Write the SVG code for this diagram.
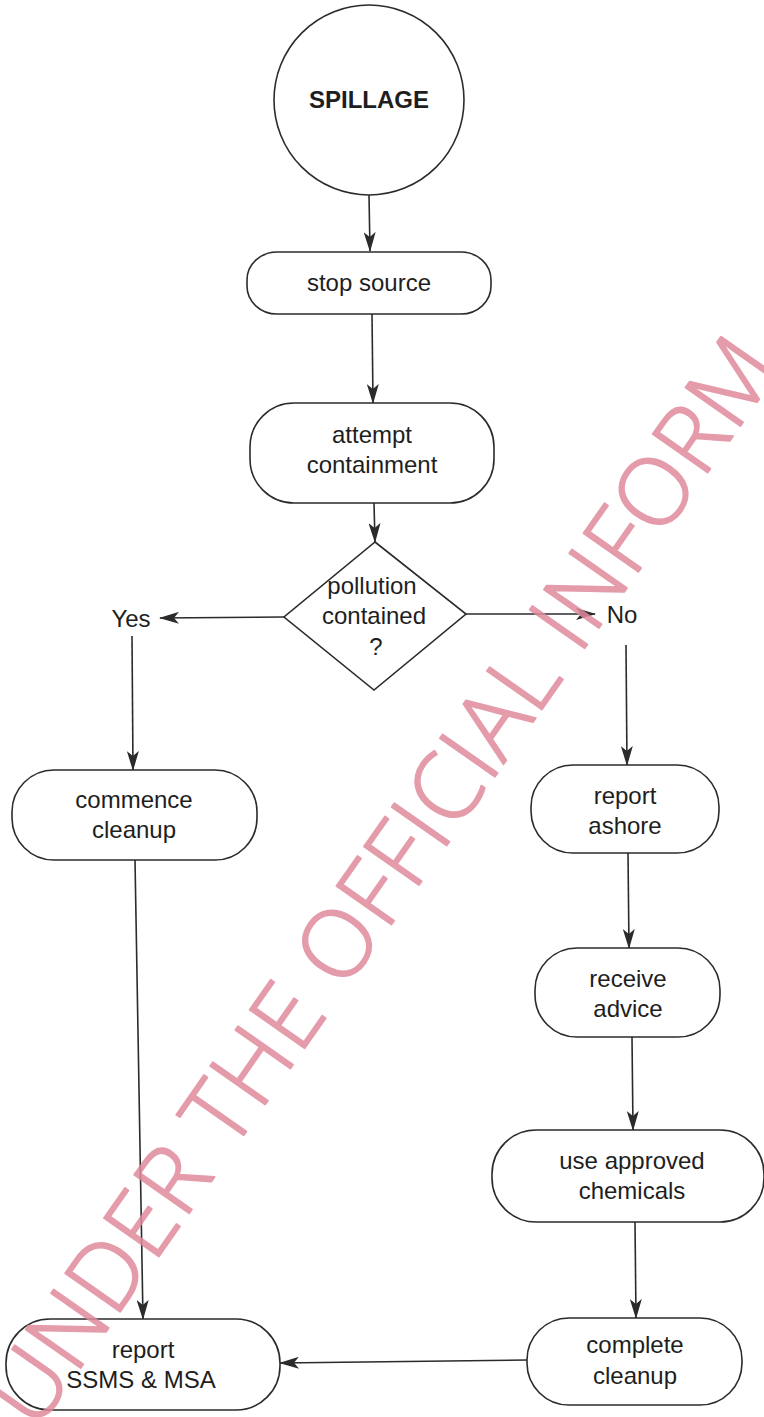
<svg xmlns="http://www.w3.org/2000/svg" width="764" height="1417" viewBox="0 0 764 1417">
  <defs>
    <marker id="arrow" viewBox="0 0 20 12" markerWidth="20" markerHeight="12" refX="19" refY="6" orient="auto" markerUnits="userSpaceOnUse">
      <path d="M0,0 L20,6 L0,12 L5,6 z" fill="#2b2b2b"/>
    </marker>
  </defs>
  <style>
    .shape { fill: #ffffff; stroke: #2b2b2b; stroke-width: 1.6; }
    .edge { fill: none; stroke: #2b2b2b; stroke-width: 1.6; marker-end: url(#arrow); }
    .label { font-family: "Liberation Sans", Arial, sans-serif; font-size: 24px; fill: #1e1e1e; text-anchor: middle; }
    .title { font-weight: bold; }
    .stamp { font-family: "Open Sans", "Liberation Sans", sans-serif; font-weight: 300; font-size: 94px; fill: #e08a9c; stroke: #e08a9c; stroke-width: 1.8; stroke-linejoin: round; opacity: 0.85; letter-spacing: 1px; }
  </style>

  <rect width="764" height="1417" fill="#ffffff"/>

  <!-- connectors -->
  <g id="connectors">
    <line class="edge" x1="369" y1="195" x2="370" y2="251"/>
    <line class="edge" x1="372" y1="314" x2="373" y2="403"/>
    <line class="edge" x1="374" y1="503" x2="375" y2="542"/>
    <line class="edge" x1="284" y1="617" x2="160" y2="618"/>
    <line class="edge" x1="466" y1="614" x2="595" y2="614"/>
    <line class="edge" x1="132" y1="636" x2="133" y2="770"/>
    <line class="edge" x1="626" y1="645" x2="627" y2="765"/>
    <line class="edge" x1="135" y1="860" x2="143" y2="1319"/>
    <line class="edge" x1="628" y1="853" x2="629" y2="948"/>
    <line class="edge" x1="632" y1="1037" x2="633" y2="1130"/>
    <line class="edge" x1="635" y1="1222" x2="636" y2="1318"/>
    <line class="edge" x1="527" y1="1360" x2="280" y2="1363"/>
    <text class="label" x="131" y="627">Yes</text>
    <text class="label" x="622" y="623">No</text>
  </g>

  <g id="spillage">
    <circle class="shape" cx="369" cy="100" r="95"/>
    <text class="label title" x="369" y="108" font-size="23">SPILLAGE</text>
  </g>

  <g id="stop-source">
    <rect class="shape" x="247" y="252" width="244" height="62" rx="30" ry="28"/>
    <text class="label" x="369" y="291">stop source</text>
  </g>

  <g id="attempt-containment">
    <rect class="shape" x="250" y="403" width="244" height="100" rx="44" ry="44"/>
    <text class="label" x="372" y="443">attempt</text>
    <text class="label" x="372" y="473">containment</text>
  </g>

  <g id="pollution-contained">
    <polygon class="shape" points="375,542 466,614 374,690 284,617"/>
    <text class="label" x="372" y="594">pollution</text>
    <text class="label" x="374" y="624">contained</text>
    <text class="label" x="376" y="655">?</text>
  </g>

  <g id="commence-cleanup">
    <rect class="shape" x="12" y="770" width="245" height="90" rx="42" ry="42"/>
    <text class="label" x="134" y="808">commence</text>
    <text class="label" x="134" y="838">cleanup</text>
  </g>

  <g id="report-ashore">
    <rect class="shape" x="531" y="765" width="188" height="88" rx="42" ry="42"/>
    <text class="label" x="625" y="804">report</text>
    <text class="label" x="625" y="834">ashore</text>
  </g>

  <g id="receive-advice">
    <rect class="shape" x="535" y="948" width="185" height="89" rx="42" ry="42"/>
    <text class="label" x="628" y="987">receive</text>
    <text class="label" x="628" y="1017">advice</text>
  </g>

  <g id="use-approved-chemicals">
    <rect class="shape" x="492" y="1130" width="272" height="92" rx="44" ry="44"/>
    <text class="label" x="632" y="1169">use approved</text>
    <text class="label" x="632" y="1199">chemicals</text>
  </g>

  <g id="complete-cleanup">
    <rect class="shape" x="527" y="1318" width="215" height="87" rx="42" ry="42"/>
    <text class="label" x="635" y="1353">complete</text>
    <text class="label" x="635" y="1384">cleanup</text>
  </g>

  <g id="report-ssms-msa">
    <rect class="shape" x="6" y="1319" width="274" height="91" rx="44" ry="44"/>
    <text class="label" x="143" y="1358">report</text>
    <text class="label" x="141" y="1388">SSMS &amp; MSA</text>
  </g>

  <!-- diagonal stamp across the sheet -->
  <g id="stamp">
    <text class="stamp" transform="translate(36,1432) rotate(-55)">UNDER THE OFFICIAL INFORM</text>
  </g>
</svg>
